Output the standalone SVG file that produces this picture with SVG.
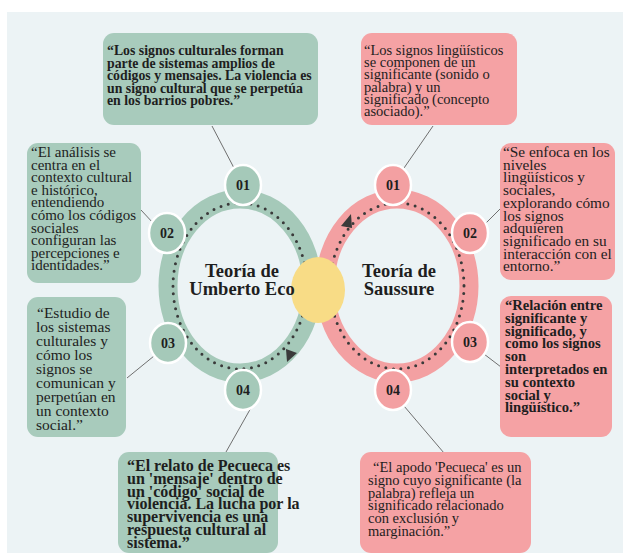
<svg xmlns="http://www.w3.org/2000/svg" width="623" height="556" viewBox="0 0 623 556">
<style>
.bg{fill:#ecf3f5}
.gbox{fill:#a8cbbc}
.pbox{fill:#f5a2a4}
.t{font-family:"Liberation Serif","Times New Roman",serif;fill:#1e1e1e}
.r{font-size:14.5px}
.b{font-weight:bold}
.conn{stroke:#6f6f6f;stroke-width:1;fill:none}
.gring{fill:none;stroke:#a5c9b9;stroke-width:19}
.pring{fill:none;stroke:#f3a0a2;stroke-width:19}
.dots{fill:none;stroke:#3a3a3a;stroke-width:3;stroke-linecap:round;stroke-dasharray:0 7.6}
.gn{fill:#a5c9b9;stroke:#ffffff;stroke-width:2.5}
.pn{fill:#f3a0a2;stroke:#ffffff;stroke-width:2.5}
.nl{font-family:"Liberation Serif","Times New Roman",serif;font-weight:bold;font-size:14px;fill:#1e1e1e;text-anchor:middle}
.title{font-family:"Liberation Serif","Times New Roman",serif;font-weight:bold;font-size:18.5px;fill:#1e1e1e;text-anchor:middle}
.arrow{fill:#3a3a3a}
</style>
<rect x="0" y="0" width="623" height="556" fill="#ffffff"/>
<rect class="bg" x="7" y="12" width="616" height="541"/>

<g id="connectors">
<line class="conn" x1="212" y1="126" x2="234" y2="168"/>
<line class="conn" x1="433" y1="126" x2="404" y2="168"/>
<line class="conn" x1="141" y1="210" x2="154" y2="224"/>
<line class="conn" x1="484" y1="225" x2="501" y2="208"/>
<line class="conn" x1="127" y1="378" x2="154" y2="356"/>
<line class="conn" x1="484" y1="354" x2="501" y2="367"/>
<line class="conn" x1="252" y1="406" x2="226" y2="452"/>
<line class="conn" x1="404" y1="406" x2="444" y2="453"/>
</g>

<g id="ring-eco">
<ellipse class="gring" cx="240" cy="286" rx="72" ry="87"/>
<ellipse class="dots" cx="240" cy="286" rx="67" ry="83"/>
<polygon class="arrow" points="286,349 297,353 287,362"/>
</g>
<g id="ring-saussure">
<ellipse class="pring" cx="397" cy="286" rx="72" ry="87"/>
<ellipse class="dots" cx="397" cy="286" rx="67" ry="83"/>
<polygon class="arrow" points="341,226 351,214 352,228"/>
</g>
<g id="center">
<ellipse cx="318" cy="290" rx="27" ry="33" fill="#f8dc86"/>
</g>

<g id="title-eco">
<text class="title" x="242" y="277">Teoría de</text>
<text class="title" x="242" y="295">Umberto Eco</text>
</g>
<g id="title-saussure">
<text class="title" x="399" y="277">Teoría de</text>
<text class="title" x="399" y="295">Saussure</text>
</g>

<g id="g01"><ellipse class="gn" cx="243" cy="185" rx="18" ry="20"/><text class="nl" x="243" y="190">01</text></g>
<g id="g02"><ellipse class="gn" cx="167" cy="233" rx="18" ry="20"/><text class="nl" x="167" y="238">02</text></g>
<g id="g03"><ellipse class="gn" cx="168" cy="343" rx="18" ry="20"/><text class="nl" x="168" y="348">03</text></g>
<g id="g04"><ellipse class="gn" cx="243" cy="390" rx="18" ry="20"/><text class="nl" x="243" y="395">04</text></g>
<g id="p01"><ellipse class="pn" cx="393" cy="185" rx="18" ry="20"/><text class="nl" x="393" y="190">01</text></g>
<g id="p02"><ellipse class="pn" cx="470" cy="233" rx="18" ry="20"/><text class="nl" x="470" y="238">02</text></g>
<g id="p03"><ellipse class="pn" cx="470" cy="342" rx="18" ry="20"/><text class="nl" x="470" y="347">03</text></g>
<g id="p04"><ellipse class="pn" cx="393" cy="390" rx="18" ry="20"/><text class="nl" x="393" y="395">04</text></g>

<g id="box-g1">
<rect class="gbox" x="103" y="33" width="215" height="92" rx="11"/>
<text class="t b" font-size="13.8" x="107">
<tspan x="107" y="55">“Los signos culturales forman</tspan>
<tspan x="107" y="67.6">parte de sistemas amplios de</tspan>
<tspan x="107" y="80.2">códigos y mensajes. La violencia es</tspan>
<tspan x="107" y="92.8">un signo cultural que se perpetúa</tspan>
<tspan x="107" y="105.4">en los barrios pobres.”</tspan>
</text>
</g>

<g id="box-p1">
<rect class="pbox" x="361" y="33" width="156" height="92" rx="11"/>
<text class="t r" x="364">
<tspan x="364" y="55">“Los signos lingüísticos</tspan>
<tspan x="364" y="67.2">se componen de un</tspan>
<tspan x="364" y="79.4">significante (sonido o</tspan>
<tspan x="364" y="91.6">palabra) y un</tspan>
<tspan x="364" y="103.8">significado (concepto</tspan>
<tspan x="364" y="116">asociado).”</tspan>
</text>
</g>

<g id="box-g2">
<rect class="gbox" x="27" y="143" width="114" height="140" rx="11"/>
<text class="t" font-size="15" x="31">
<tspan x="31" y="157">“El análisis se</tspan>
<tspan x="31" y="169.6">centra en el</tspan>
<tspan x="31" y="182.2">contexto cultural</tspan>
<tspan x="31" y="194.8">e histórico,</tspan>
<tspan x="31" y="207.4">entendiendo</tspan>
<tspan x="31" y="220">cómo los códigos</tspan>
<tspan x="31" y="232.6">sociales</tspan>
<tspan x="31" y="245.2">configuran las</tspan>
<tspan x="31" y="257.8">percepciones e</tspan>
<tspan x="31" y="270.4">identidades.”</tspan>
</text>
</g>

<g id="box-p2">
<rect class="pbox" x="500" y="143" width="115" height="137" rx="11"/>
<text class="t" font-size="15.3" x="503">
<tspan x="503" y="157">“Se enfoca en los</tspan>
<tspan x="503" y="169.7">niveles</tspan>
<tspan x="503" y="182.4">lingüísticos y</tspan>
<tspan x="503" y="195.1">sociales,</tspan>
<tspan x="503" y="207.8">explorando cómo</tspan>
<tspan x="503" y="220.5">los signos</tspan>
<tspan x="503" y="233.2">adquieren</tspan>
<tspan x="503" y="245.9">significado en su</tspan>
<tspan x="503" y="258.6">interacción con el</tspan>
<tspan x="503" y="271.3">entorno.”</tspan>
</text>
</g>

<g id="box-g3">
<rect class="gbox" x="27" y="297" width="99" height="140" rx="11"/>
<text class="t" font-size="15.5" x="36">
<tspan x="37" y="318">“Estudio de</tspan>
<tspan x="36" y="332">los sistemas</tspan>
<tspan x="36" y="346">culturales y</tspan>
<tspan x="36" y="360">cómo los</tspan>
<tspan x="36" y="374">signos se</tspan>
<tspan x="36" y="388">comunican y</tspan>
<tspan x="36" y="402">perpetúan en</tspan>
<tspan x="36" y="416">un contexto</tspan>
<tspan x="36" y="430">social.”</tspan>
</text>
</g>

<g id="box-p3">
<rect class="pbox" x="500" y="296" width="112" height="141" rx="11"/>
<text class="t b" font-size="14.6" x="505">
<tspan x="505" y="310">“Relación entre</tspan>
<tspan x="505" y="322.8">significante y</tspan>
<tspan x="505" y="335.6">significado, y</tspan>
<tspan x="505" y="348.4">como los signos</tspan>
<tspan x="505" y="361.2">son</tspan>
<tspan x="505" y="374">interpretados en</tspan>
<tspan x="505" y="386.8">su contexto</tspan>
<tspan x="505" y="399.6">social y</tspan>
<tspan x="505" y="412.4">lingüístico.”</tspan>
</text>
</g>

<g id="box-g4">
<rect class="gbox" x="118" y="452" width="160" height="101" rx="11"/>
<text class="t b" font-size="16" x="127">
<tspan x="127" y="471">“El relato de Pecueca es</tspan>
<tspan x="127" y="483.8">un 'mensaje' dentro de</tspan>
<tspan x="127" y="496.6">un 'código' social de</tspan>
<tspan x="127" y="509.4">violencia. La lucha por la</tspan>
<tspan x="127" y="522.2">supervivencia es una</tspan>
<tspan x="127" y="535">respuesta cultural al</tspan>
<tspan x="127" y="547.8">sistema.”</tspan>
</text>
</g>

<g id="box-p4">
<rect class="pbox" x="360" y="452" width="171" height="101" rx="11"/>
<text class="t r" x="368">
<tspan x="373" y="472">“El apodo 'Pecueca' es un</tspan>
<tspan x="368" y="484.8">signo cuyo significante (la</tspan>
<tspan x="368" y="497.6">palabra) refleja un</tspan>
<tspan x="368" y="510.4">significado relacionado</tspan>
<tspan x="368" y="523.2">con exclusión y</tspan>
<tspan x="368" y="536">marginación.”</tspan>
</text>
</g>
</svg>
